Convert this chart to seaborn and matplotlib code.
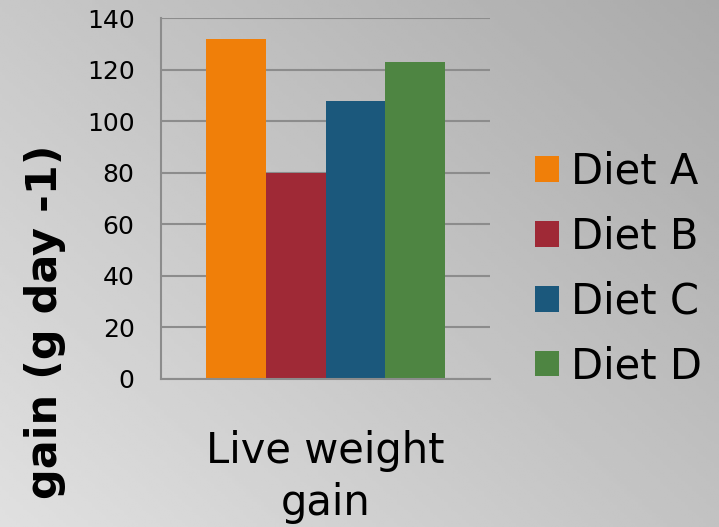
import numpy as np
import pandas as pd
import matplotlib
matplotlib.use("Agg")
import matplotlib.pyplot as plt
import seaborn as sns

# chart values
category = "Live weight\ngain"
diets = ["Diet A", "Diet B", "Diet C", "Diet D"]
gain = [132, 80, 108, 123]
colors = ["#F07F09", "#9F2936", "#1B587C", "#4E8542"]
yticks = [0, 20, 40, 60, 80, 100, 120, 140]

sns.set_style("white")
plt.rcParams["font.family"] = ["DejaVu Sans"]
plt.rcParams["text.color"] = "black"
plt.rcParams["xtick.color"] = "black"
plt.rcParams["ytick.color"] = "black"

df = pd.DataFrame({"category": [category] * len(diets), "diet": diets, "gain": gain})

fig = plt.figure(figsize=(7.19, 5.27), dpi=100)

# gray gradient background, light bottom-left to darker top-right
bg = fig.add_axes([0, 0, 1, 1], zorder=-10)
u = np.linspace(0, 1, 200)
v = np.linspace(0, 1, 200)
U, V = np.meshgrid(u, v)
shade = (200 - 30 * U + 24 * V) / 255
bg.imshow(shade, cmap="gray", vmin=0, vmax=1, aspect="auto", extent=[0, 1, 1, 0])
bg.axis("off")

ax = fig.add_axes([161 / 719, 1 - 379 / 527, 329 / 719, 361 / 527])
ax.set_facecolor("none")
sns.barplot(data=df, x="category", y="gain", hue="diet", palette=colors,
            width=0.727, saturation=1, linewidth=0, ax=ax, legend=True)
ax.set_xlim(-0.5, 0.5)
ax.set_ylim(0, 140)
ax.set_yticks(yticks)
ax.yaxis.grid(True, color="#8c8c8c", linewidth=1.5)
ax.set_axisbelow(True)
for s in ["top", "right"]:
    ax.spines[s].set_visible(False)
ax.spines["left"].set_color("#8c8c8c")
ax.spines["left"].set_linewidth(1.5)
ax.spines["bottom"].set_color("#8c8c8c")
ax.spines["bottom"].set_linewidth(1.5)
ax.tick_params(axis="y", length=0, pad=19, labelsize=18)
ax.tick_params(axis="x", length=0, pad=37, labelsize=30)
for t in ax.get_xticklabels():
    t.set_linespacing(1.3)
ax.set_xlabel("")
ax.set_ylabel("")

fig.text(45 / 719, 1 - 322 / 527, "gain (g day -1)", rotation=90, ha="center", va="center",
         fontsize=31, fontweight="bold")

handles, labels = ax.get_legend_handles_labels()
for h in handles:
    h.set_linewidth(0)
ax.legend(handles, labels, loc="center left", bbox_to_anchor=(535 / 719, 1 - 269 / 527),
          bbox_transform=fig.transFigure, frameon=False, fontsize=30,
          handlelength=0.57, handleheight=0.57, handletextpad=0.29,
          labelspacing=0.55, borderpad=0, borderaxespad=0)

fig.savefig("out.png", dpi=100)
